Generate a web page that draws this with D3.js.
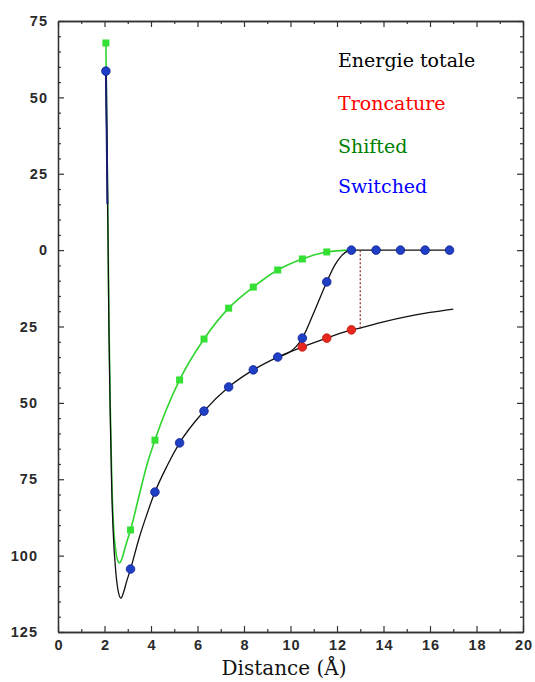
<!DOCTYPE html>
<html><head><meta charset="utf-8">
<script src="https://cdn.jsdelivr.net/npm/d3@7"></script>
<style>
html,body{margin:0;padding:0;background:#fff;}
svg{display:block;}
</style></head>
<body>
<script>
// ---------- data ----------
const xTicks = [0,2,4,6,8,10,12,14,16,18,20];
const xMinorTicks = [1,3,5,7,9,11,13,15,17,19];
const yTicks = [75,50,25,0,-25,-50,-75,-100,-125];
const yTickLabels = ["75","50","25","0","25","50","75","100","125"];
const yMinorTicks = [70,65,60,55,45,40,35,30,20,15,10,5,-5,-10,-15,-20,-30,-35,-40,-45,-55,-60,-65,-70,-80,-85,-90,-95,-105,-110,-115,-120];

const totalX = [2.06,2.10,2.15,2.19,2.25,2.31,2.37,2.49,2.60,2.71,2.82,2.95,3.12,3.50,3.80,4.17,4.70,5.23,6.28,7.34,8.40,9.45,10.51,11.56,12.62,13.0,14.0,15.0,16.0,17.0];
const totalY = [58.6,35,5,-26,-55,-78,-91.6,-105.7,-112,-113.9,-112,-108.5,-104.4,-94,-87,-79.2,-70.5,-63.1,-52.7,-44.8,-39.2,-35.0,-31.7,-28.8,-26.1,-25.5,-23.5,-21.8,-20.4,-19.3];

const shiftedX = [2.06,2.10,2.15,2.19,2.25,2.31,2.35,2.40,2.47,2.55,2.65,2.75,2.92,3.12,3.50,3.80,4.17,5.23,6.28,7.34,8.40,9.45,10.51,11.56,12.62];
const shiftedY = [67.8,40,8,-22,-52,-74,-84,-92,-97.5,-101.2,-102.4,-101,-96.5,-91.6,-80,-71,-62.2,-42.5,-29.1,-19.0,-12.1,-6.5,-2.9,-0.6,0];

const switchedX = [9.45,10.0,10.25,10.51,11.0,11.56,11.9,12.2,12.45,12.62,16.84];
const switchedY = [-35.0,-33.2,-31.5,-28.8,-20.5,-10.4,-5,-1.8,-0.3,0,0];
const switchedHeadX = [2.06,2.10,2.125];
const switchedHeadY = [58.6,35,15];

const dotX = [2.06,3.12,4.17,5.23,6.28,7.34,8.40,9.45,10.51,11.56,12.62,13.68,14.73,15.79,16.84];
const switchedDotY = [58.6,-104.4,-79.2,-63.1,-52.7,-44.8,-39.2,-35.0,-28.8,-10.4,0,0,0,0,0];
const shiftedDotX = [2.06,3.12,4.17,5.23,6.28,7.34,8.40,9.45,10.51,11.56];
const shiftedDotY = [67.8,-91.6,-62.2,-42.5,-29.1,-19.0,-12.1,-6.5,-2.9,-0.6];
const troncDotX = [10.51,11.56,12.62];
const troncDotY = [-31.7,-28.8,-26.1];
const cutoffX = [13.0,13.0];
const cutoffY = [-25.6,0];

const legendLabels = ["Energie totale","Troncature","Shifted","Switched"];
const legendColors = ["#000000","#ff0000","#008000","#0000ff"];

// ---------- drawing ----------
const W = 535, H = 682;
const svg = d3.select("body").append("svg").attr("width",W).attr("height",H);
const x = d3.scaleLinear().domain([0,20]).range([58,523]);
const y = d3.scaleLinear().domain([-125,75]).range([632,21]);

function styleAxis(g){
  g.selectAll("path.domain").attr("stroke","#333").attr("stroke-width",1.3);
  g.selectAll(".tick line").attr("stroke","#333").attr("stroke-width",1.2);
  g.selectAll(".tick text").attr("fill","#2a2a2a").style("font-family","'Liberation Sans', Arial, sans-serif")
    .style("font-size","14.5px").style("font-weight","bold").style("letter-spacing","1px");
}

// minor ticks
svg.append("g").attr("transform","translate(58,0)")
  .call(d3.axisLeft(y).tickValues(yMinorTicks).tickSize(-3).tickSizeOuter(0).tickFormat(""))
  .call(styleAxis);
svg.append("g").attr("transform","translate(523,0)")
  .call(d3.axisRight(y).tickValues(yMinorTicks).tickSize(-3).tickSizeOuter(0).tickFormat(""))
  .call(styleAxis);
svg.append("g").attr("transform","translate(0,632)")
  .call(d3.axisBottom(x).tickValues(xMinorTicks).tickSize(-3).tickSizeOuter(0).tickFormat(""))
  .call(styleAxis);
svg.append("g").attr("transform","translate(0,21)")
  .call(d3.axisTop(x).tickValues(xMinorTicks).tickSize(-3).tickSizeOuter(0).tickFormat(""))
  .call(styleAxis);

// major ticks
const gl = svg.append("g").attr("transform","translate(58,0)")
  .call(d3.axisLeft(y).tickValues(yTicks).tickSize(-6).tickSizeOuter(0).tickPadding(10)
    .tickFormat((d,i)=>yTickLabels[i]))
  .call(styleAxis);
// negative values: room kept for the (missing) minus sign
gl.selectAll(".tick text").attr("x",d=>d<0 ? -20 : -10);
svg.append("g").attr("transform","translate(523,0)")
  .call(d3.axisRight(y).tickValues(yTicks).tickSize(-6).tickSizeOuter(0).tickFormat(""))
  .call(styleAxis);
svg.append("g").attr("transform","translate(0,632)")
  .call(d3.axisBottom(x).tickValues(xTicks).tickSize(-6).tickSizeOuter(0).tickPadding(8))
  .call(styleAxis)
  .selectAll(".tick text").attr("dx","0.5px");
svg.append("g").attr("transform","translate(0,21)")
  .call(d3.axisTop(x).tickValues(xTicks).tickSize(-6).tickSizeOuter(0).tickFormat(""))
  .call(styleAxis);

const line = d3.line().x(d=>x(d[0])).y(d=>y(d[1])).curve(d3.curveMonotoneX);
const zip = (a,b)=>a.map((v,i)=>[v,b[i]]);

// curves
svg.append("path").datum(zip(shiftedX,shiftedY)).attr("d",line)
  .attr("fill","none").attr("stroke","#2fd42f").attr("stroke-width",1.6);
svg.append("path").datum(zip(totalX,totalY)).attr("d",line)
  .attr("fill","none").attr("stroke","#111").attr("stroke-width",1.3);
svg.append("path").datum(zip(switchedX,switchedY)).attr("d",line)
  .attr("fill","none").attr("stroke","#111").attr("stroke-width",1.3);
svg.append("path").datum(zip(switchedHeadX,switchedHeadY)).attr("d",line)
  .attr("fill","none").attr("stroke","#1a1a70").attr("stroke-width",2);
svg.append("path").datum(zip(cutoffX,cutoffY)).attr("d",d3.line().x(d=>x(d[0])).y(d=>y(d[1])))
  .attr("fill","none").attr("stroke","#8b2a2a").attr("stroke-width",1.2).attr("stroke-dasharray","2,2");

// markers
svg.append("g").selectAll("rect").data(zip(shiftedDotX,shiftedDotY)).join("rect")
  .attr("x",d=>x(d[0])-3.5).attr("y",d=>y(d[1])-3.5).attr("width",7).attr("height",7)
  .attr("fill","#33e033");
svg.append("g").selectAll("circle").data(zip(troncDotX,troncDotY)).join("circle")
  .attr("cx",d=>x(d[0])).attr("cy",d=>y(d[1])).attr("r",4.3)
  .attr("fill","#e8281c").attr("stroke","#c01810").attr("stroke-width",0.8);
svg.append("g").selectAll("circle").data(zip(dotX,switchedDotY)).join("circle")
  .attr("cx",d=>x(d[0])).attr("cy",d=>y(d[1])).attr("r",4.3)
  .attr("fill","#1f3fc4").attr("stroke","#0f2090").attr("stroke-width",0.8);

// legend
const legendY = [67,110,153,193];
svg.append("g").selectAll("text").data(legendLabels).join("text")
  .attr("x",338).attr("y",(d,i)=>legendY[i]).text(d=>d)
  .attr("fill",(d,i)=>legendColors[i])
  .style("font-family","'DejaVu Serif', serif").style("font-size","19px");

// x title
svg.append("text").attr("x",284).attr("y",675).attr("text-anchor","middle")
  .text("Distance (Å)").attr("fill","#111")
  .style("font-family","'DejaVu Serif', serif").style("font-size","20px");
</script>
</body></html>
